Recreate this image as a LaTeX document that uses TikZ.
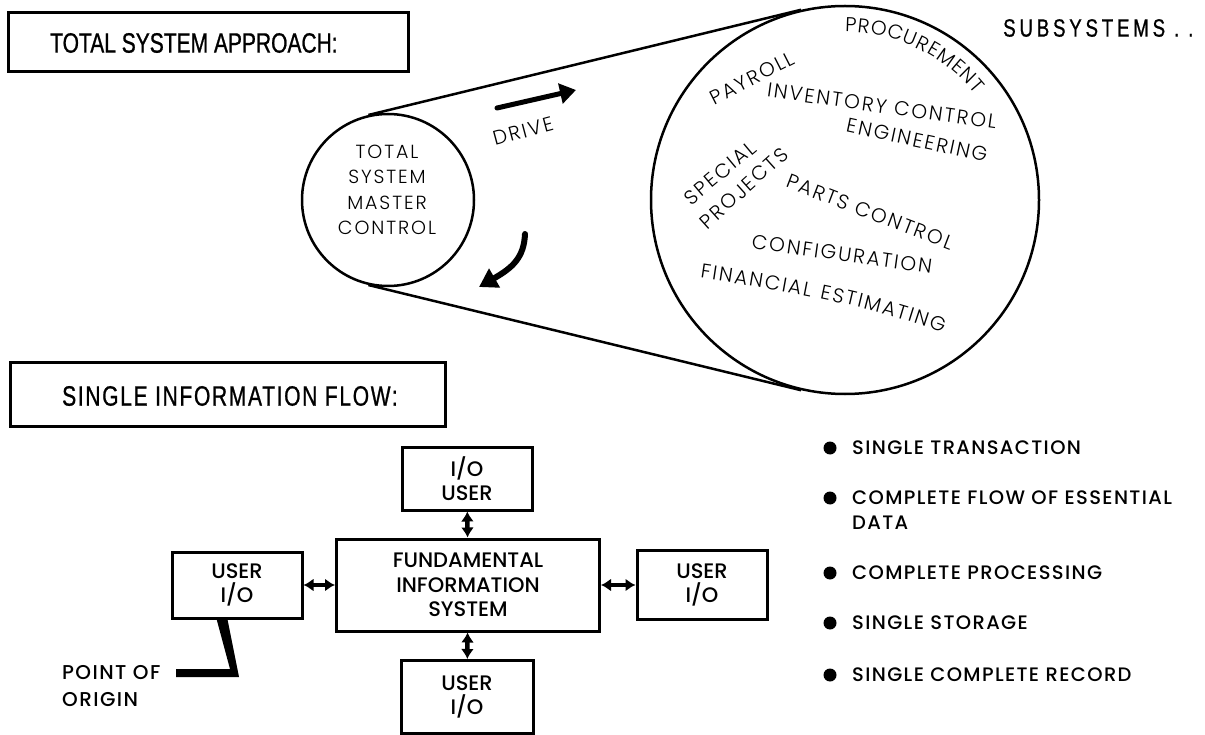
\documentclass[tikz,border=0pt]{standalone}
\usepackage{fontspec}
\setmainfont{Poppins}
\newfontfamily\condfont[FakeStretch=0.75,FakeBold=0.8]{Liberation Sans}
\newfontfamily\condwide[FakeStretch=0.75,FakeBold=0.8,LetterSpace=6]{Liberation Sans}
\newfontfamily\condwider[FakeStretch=0.75,FakeBold=0.8,LetterSpace=15]{Liberation Sans}
\newfontfamily\lightfont[LetterSpace=10]{Poppins Light}
\newfontfamily\lightplain{Poppins Light}
\newfontfamily\medfont{Poppins Medium}
\newfontfamily\medwide[LetterSpace=7]{Poppins Medium}
\usetikzlibrary{arrows.meta,decorations.text,calc}

\begin{document}
\begin{tikzpicture}[x=1pt,y=1pt,
  hdbox/.style={draw, line width=3pt, inner sep=0pt},
  hdtext/.style={anchor=west, inner sep=0pt, font=\condfont\fontsize{28}{30}\selectfont},
  ring/.style={draw, circle, line width=2.5pt, inner sep=0pt},
  belt/.style={line width=2.5pt},
  sub/.style={inner sep=0pt, font=\lightfont\fontsize{20}{25}\selectfont},
  arctext/.style={decorate, decoration={text along path, text align=fit to path,
    text={|\lightplain\fontsize{20}{20}\selectfont|#1}}},
  iobox/.style={draw, line width=3pt, inner sep=0pt, align=center,
    font=\medfont\fontsize{21}{24.5}\selectfont},
  iolink/.style={{Latex[length=10pt,width=13pt]}-{Latex[length=10pt,width=13pt]}, line width=4.5pt},
  bullet/.style={circle, fill, inner sep=0pt, minimum size=13pt},
  point/.style={anchor=west, inner sep=0pt, align=left,
    font=\medwide\fontsize{19.5}{25}\selectfont},
  fatarrow/.style={line width=5pt, line cap=round, -{Triangle[length=16pt,width=20pt]}}
]
\useasboundingbox (0,0) rectangle (1205,-735);

% ---------- upper section: total system approach ----------
\node[hdbox, minimum width=400pt, minimum height=59pt] (hdA) at (208,-42.5) {};
\node[hdtext] (hdAtext) at (50,-43) {TOTAL SYSTEM APPROACH:};

\node[anchor=west, inner sep=0pt, font=\condwider\fontsize{25}{27}\selectfont]
  (subs) at (1003,-28) {SUBSYSTEMS . .};

% the two pulleys and the belt
\node[ring, minimum size=172pt] (sm) at (388,-200) {};
\node[ring, minimum size=388pt] (big) at (845,-200) {};
\draw[belt] (sm.103.7) -- (big.103.7);
\draw[belt] (sm.-103.7) -- (big.-103.7);

\node[align=center, inner sep=0pt, font=\lightfont\fontsize{19}{25.3}\selectfont]
  (master) at (387,-190) {TOTAL\\SYSTEM\\MASTER\\CONTROL};

% drive arrows
\coordinate (dT) at (497,-108);
\coordinate (dH) at (576,-90);
\draw[fatarrow] (dT) -- (dH);
\node[sub, rotate=15] (drive) at (523,-131) {DRIVE};

\coordinate (cT) at (525,-234);
\coordinate (cH) at (479,-287);
\draw[line width=6pt, line cap=round, -{Triangle[length=18pt,width=21pt]}]
  (cT) .. controls (524,-258) and (512,-268) .. (cH);

% subsystem names inside the large pulley
\path[arctext=PROCUREMENT]
  ($(big.center)+(90:168)$) arc[start angle=90, end angle=39, radius=168];
\node[sub, rotate=27] (payroll) at (752,-78) {PAYROLL};
\node[sub, rotate=-8] (inv) at (882,-106) {INVENTORY CONTROL};
\node[sub, rotate=-12] (eng) at (917,-140) {ENGINEERING};
\node[sub, rotate=40] (spec) at (720,-173) {SPECIAL};
\node[sub, rotate=42] (proj) at (744,-188) {PROJECTS};
\node[sub, rotate=-21] (parts) at (870,-212) {PARTS CONTROL};
\node[sub, rotate=-8] (config) at (842,-254) {CONFIGURATION};
\path[arctext=FINANCIAL ESTIMATING]
  (700,-278) .. controls (780,-290) and (870,-305) .. (943,-333);

% ---------- lower section: single information flow ----------
\node[hdbox, minimum width=435pt, minimum height=64pt] (hdB) at (227.5,-394) {};
\node[hdtext, font=\condwide\fontsize{28}{30}\selectfont] (hdBtext) at (62,-396) {SINGLE INFORMATION FLOW:};

\node[iobox, minimum width=263pt, minimum height=92pt] (fis) at (468,-585)
  {FUNDAMENTAL\\INFORMATION\\SYSTEM};
\node[iobox, minimum width=130pt, minimum height=63pt] (top) at (467,-478.5) {I/O\\USER};
\node[iobox, minimum width=132pt, minimum height=73pt] (bot) at (467,-697) {USER\\I/O};
\node[iobox, minimum width=130pt, minimum height=66pt] (lft) at (237,-585) {USER\\I/O};
\node[iobox, minimum width=130pt, minimum height=69pt] (rgt) at (702,-585) {USER\\I/O};

\draw[iolink] (top) -- (fis);
\draw[iolink] (fis) -- (bot);
\draw[iolink] (lft) -- (fis);
\draw[iolink] (fis) -- (rgt);

% point of origin pointer
\node[anchor=west, inner sep=0pt, align=left, font=\medwide\fontsize{20}{27}\selectfont]
  (origin) at (62,-686) {POINT OF\\ORIGIN};
\fill (216,-617) -- (227,-617) -- (239,-677) -- (176,-677) -- (176,-669) -- (230,-669) -- cycle;

% characteristics list
\node[bullet] (b1) at (830,-448) {};
\node[point] (p1) at (852,-448) {SINGLE TRANSACTION};
\node[bullet] (b2) at (830,-498) {};
\node[point] (p2) at (852,-510.5) {COMPLETE FLOW OF ESSENTIAL\\DATA};
\node[bullet] (b3) at (830,-573) {};
\node[point] (p3) at (852,-573) {COMPLETE PROCESSING};
\node[bullet] (b4) at (830,-623) {};
\node[point] (p4) at (852,-623) {SINGLE STORAGE};
\node[bullet] (b5) at (830,-675) {};
\node[point] (p5) at (852,-675) {SINGLE COMPLETE RECORD};
\end{tikzpicture}
\end{document}
